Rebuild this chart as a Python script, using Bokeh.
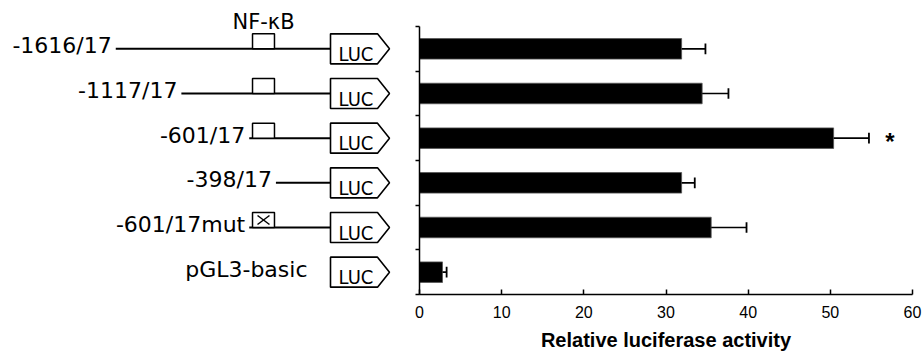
import numpy as np
from bokeh.plotting import figure
from bokeh.layouts import row
from bokeh.models import Range1d, FixedTicker
from bokeh.core.properties import value
from bokeh.embed import file_html
from bokeh.resources import INLINE

# ---------------- data ----------------
CONSTRUCTS = ["-1616/17", "-1117/17", "-601/17", "-398/17", "-601/17mut", "pGL3-basic"]
START_BP = [-1616, -1117, -601, -398, -601, None]
MUTANT = [False, False, False, False, True, False]
END_BP = 17
NFKB_SITE = [-576, -409]
ACTIVITY = [31.9, 34.4, 50.4, 31.9, 35.5, 2.8]
ERROR = [2.9, 3.2, 4.3, 1.6, 4.3, 0.5]
SIGNIF = ["", "", "*", "", "", ""]
X_TICKS = [0, 10, 20, 30, 40, 50, 60]
X_LABEL = "Relative luciferase activity"

# ---------------- layout ----------------
H = 353
TOP_PX = 26             # free space above first row (inside frame)
BOTTOM = 59
N = len(CONSTRUCTS)
ROW_PX = (H - BOTTOM - TOP_PX) / N
LEFT_W = 405
RIGHT_W = 517
SCALE = 0.1315          # px per bp in the schematic
LUC_PX = 330            # x of LUC box inside the left panel
LUC_BODY = 47 / SCALE
LUC_TIP = 12 / SCALE
LUC_HALF = 15 / ROW_PX
BOX_H = 15 / ROW_PX
FONT = "DejaVu Sans"

centers = np.arange(N) + 0.5
y_top = -TOP_PX / ROW_PX

x0 = END_BP - LUC_PX / SCALE
left = figure(width=LEFT_W, height=H, output_backend="svg", toolbar_location=None,
              x_range=Range1d(x0, x0 + LEFT_W / SCALE),
              y_range=Range1d(N, y_top),
              x_axis_location=None, y_axis_location=None,
              min_border_left=0, min_border_right=0, min_border_top=0,
              min_border_bottom=BOTTOM, outline_line_color=None)
left.grid.visible = False

# promoter lines
ln_rows = [i for i in range(N) if START_BP[i] is not None]
left.segment(x0=[START_BP[i] for i in ln_rows], x1=[END_BP] * len(ln_rows),
             y0=[centers[i] for i in ln_rows], y1=[centers[i] for i in ln_rows],
             line_color="black", line_width=2)

# NF-kB site boxes
site_rows = [i for i in ln_rows if START_BP[i] <= NFKB_SITE[0]]
left.quad(left=[NFKB_SITE[0]] * len(site_rows), right=[NFKB_SITE[1]] * len(site_rows),
          top=[centers[i] - BOX_H for i in site_rows], bottom=[centers[i] for i in site_rows],
          fill_color="white", line_color="black", line_width=1.5)
mut_rows = [i for i in site_rows if MUTANT[i]]
ins_x = 5 / SCALE
ins_y = 3 / ROW_PX
for i in mut_rows:
    c = centers[i]
    left.segment(x0=[NFKB_SITE[0] + ins_x, NFKB_SITE[0] + ins_x],
                 x1=[NFKB_SITE[1] - ins_x, NFKB_SITE[1] - ins_x],
                 y0=[c - BOX_H + ins_y, c - ins_y], y1=[c - ins_y, c - BOX_H + ins_y],
                 line_color="black", line_width=1.5)

# LUC reporter arrows
xs = [[END_BP, END_BP + LUC_BODY, END_BP + LUC_BODY + LUC_TIP, END_BP + LUC_BODY, END_BP]] * N
ys = [[c - LUC_HALF, c - LUC_HALF, c, c + LUC_HALF, c + LUC_HALF] for c in centers]
left.patches(xs=xs, ys=ys, fill_color="white", line_color="black", line_width=1.6)
left.text(x=[END_BP + LUC_BODY / 2] * N, y=centers, text=["LUC"] * N,
          text_font=value("DejaVu Sans Condensed"), text_font_size="20px",
          text_align="center", text_baseline="alphabetic", y_offset=5, x_offset=2,
          text_color="black")

# construct labels
lab_x = [s if s is not None else END_BP for s in START_BP]
lab_off = [-4 if s is not None else -23 for s in START_BP]
left.text(x=lab_x, y=centers, text=CONSTRUCTS, x_offset=lab_off, y_offset=-3,
          text_font=value(FONT), text_font_size="22px", text_align="right",
          text_baseline="alphabetic", text_color="black")

left.text(x=[sum(NFKB_SITE) / 2], y=[centers[0] - BOX_H], text=["NF-κB"],
          y_offset=-12, text_font=value(FONT), text_font_size="21px",
          text_align="center", text_baseline="alphabetic", text_color="black")

# ---------------- bar chart ----------------
right = figure(width=RIGHT_W, height=H, output_backend="svg", toolbar_location=None,
               x_range=Range1d(X_TICKS[0], X_TICKS[-1]), y_range=Range1d(N, y_top),
               min_border_left=14, min_border_right=10, min_border_top=0,
               min_border_bottom=BOTTOM, outline_line_color=None)
right.grid.visible = False

tops = [a + e for a, e in zip(ACTIVITY, ERROR)]
right.hbar(y=centers, left=0, right=ACTIVITY, height=0.46, fill_color="black",
           line_color="#555555", line_width=0.8)
right.segment(x0=ACTIVITY, x1=tops, y0=centers, y1=centers, line_color="black", line_width=1.6)
right.segment(x0=tops, x1=tops, y0=centers - 0.12, y1=centers + 0.12,
              line_color="black", line_width=1.8)
sig_rows = [i for i in range(N) if SIGNIF[i]]
right.text(x=[tops[i] for i in sig_rows], y=[centers[i] for i in sig_rows],
           text=[SIGNIF[i] for i in sig_rows], x_offset=21, y_offset=3,
           text_font=value("Liberation Sans"), text_font_style="bold",
           text_font_size="24px", text_align="center", text_baseline="alphabetic",
           text_color="black")

xa = right.xaxis[0]
xa.ticker = FixedTicker(ticks=X_TICKS)
xa.major_tick_in = 5
xa.major_tick_out = 0
xa.minor_tick_line_color = None
xa.axis_line_width = 1.5
xa.major_tick_line_width = 1.5
xa.major_label_text_font = "Liberation Sans"
xa.major_label_text_font_size = "16px"
xa.major_label_text_color = "black"
xa.major_label_standoff = 11
xa.axis_label = X_LABEL
xa.axis_label_text_font = "Liberation Sans"
xa.axis_label_text_font_style = "bold"
xa.axis_label_text_font_size = "20px"
xa.axis_label_text_color = "black"
xa.axis_label_standoff = 8

ya = right.yaxis[0]
ya.ticker = FixedTicker(ticks=list(range(N + 1)))
ya.bounds = (0, N)
ya.major_tick_in = 0
ya.major_tick_out = 4
ya.minor_tick_line_color = None
ya.axis_line_width = 1.5
ya.major_tick_line_width = 1.5
ya.major_label_text_color = None
ya.major_label_text_font_size = "8px"
ya.major_label_standoff = 0

layout = row(left, right)
open("out.html", "w").write(file_html(layout, INLINE))
